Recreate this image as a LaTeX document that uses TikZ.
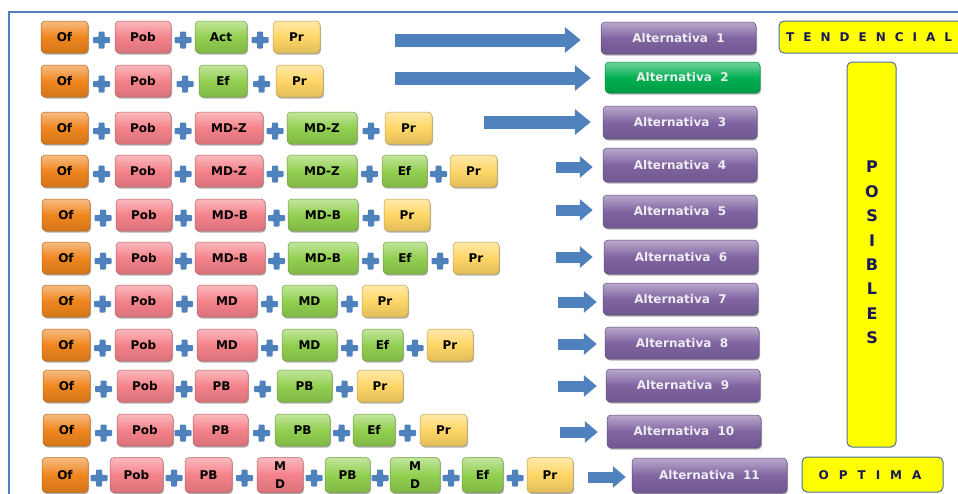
\documentclass[tikz,border=0pt]{standalone}
\usepackage{fontspec}
\setmainfont{DejaVu Sans}
\usetikzlibrary{arrows.meta,calc,shadows}

\definecolor{frameblue}{RGB}{79,129,189}
\definecolor{ofc}{RGB}{240,134,30}
\definecolor{pobc}{RGB}{245,130,138}
\definecolor{grnc}{RGB}{146,208,80}
\definecolor{prc}{RGB}{255,214,102}
\definecolor{altc}{RGB}{128,100,162}
\definecolor{alttwoc}{RGB}{0,176,80}
\definecolor{ylwc}{RGB}{255,255,0}
\definecolor{ylwedge}{RGB}{79,110,160}
\definecolor{navyc}{RGB}{25,25,85}
\definecolor{alttext}{RGB}{238,238,242}

\newcommand\lblfont{\fontsize{12}{14}\selectfont\bfseries}
\newcommand\altfont{\fontsize{12}{14}\selectfont\bfseries}
\newcommand\tagfont{\fontsize{12}{14}\selectfont\bfseries}
\newcommand\tagbig{\fontsize{16}{24.4}\selectfont\bfseries}

% box: style, name, left, right, y-centre, text
\newcommand\bx[6]{%
  \pgfmathsetmacro\bxc{(#3+#4)/2}%
  \pgfmathsetmacro\bxw{#4-#3}%
  \node[#1, minimum width=\bxw pt] (#2) at (\bxc,#5) {#6};}
% alternative box: style, name, left, right, top, bottom, text
\newcommand\altnode[7]{%
  \pgfmathsetmacro\axc{(#3+#4)/2}%
  \pgfmathsetmacro\axy{(#5+#6)/2}%
  \pgfmathsetmacro\axw{#4-#3}%
  \pgfmathsetmacro\axh{#6-#5}%
  \node[#1, minimum width=\axw pt, minimum height=\axh pt] (#2) at (\axc,\axy) {#7};}
% plus sign between two boxes
\newcommand\pl[2]{\pic at ($(#1.east)!0.5!(#2.west)+(0,3)$) {plussign};}
% block arrow: style, start name, start x, y, target, gap
\newcommand\harrow[6]{%
  \coordinate (#2) at (#3,#4);
  \draw[#1] (#2) -- ([xshift=-#6pt]#2 -| #5.west);}

\tikzset{
  boxtone/.style={draw=#1!75!black, line width=0.5pt,
    top color=#1!55!white, bottom color=#1!88!black, middle color=#1},
  boxbase/.style={rounded corners=4pt, inner sep=0pt, minimum height=32pt,
    font=\lblfont, text=black,
    drop shadow={shadow xshift=1pt, shadow yshift=-1.5pt, opacity=0.3, fill=black}},
  ofbox/.style={boxbase, boxtone=ofc},
  pobbox/.style={boxbase, boxtone=pobc},
  grnbox/.style={boxbase, boxtone=grnc},
  prbox/.style={boxbase, boxtone=prc},
  altbox/.style={boxbase, boxtone=altc, font=\altfont, text=alttext},
  alttwobox/.style={boxbase, boxtone=alttwoc, font=\altfont, text=alttext},
  yelbox/.style={rounded corners=5pt, fill=ylwc, draw=ylwedge, line width=1pt,
    inner sep=0pt},
  barrow/.style={frameblue, line width=13pt,
    -{Triangle[length=16pt,width=25pt]}},
  sarrow/.style={frameblue, line width=11pt,
    -{Triangle[length=13pt,width=21pt]}},
  plussign/.pic={\fill[frameblue, rounded corners=0.8pt]
    (-8.5,-3) -- (-3,-3) -- (-3,-8.5) -- (3,-8.5) -- (3,-3) -- (8.5,-3)
    -- (8.5,3) -- (3,3) -- (3,8.5) -- (-3,8.5) -- (-3,3) -- (-8.5,3) -- cycle;}
}

\begin{document}
\begin{tikzpicture}[x=1pt, y=-1pt]
\useasboundingbox (0,0) rectangle (958,493);
\clip (0,0) rectangle (958,493);

% frame
\draw[frameblue, line width=2pt] (958,12) -- (9,12) -- (9,495);

% row 1
\bx{ofbox}{a1}{41}{88}{37}{Of}
\bx{pobbox}{b1}{115}{171}{37}{Pob}
\bx{grnbox}{c1}{195}{247}{37}{Act}
\bx{prbox}{d1}{273}{320}{37}{Pr}
\pl{a1}{b1}\pl{b1}{c1}\pl{c1}{d1}

% row 2
\bx{ofbox}{a2}{41}{88}{81}{Of}
\bx{pobbox}{b2}{115}{171}{81}{Pob}
\bx{grnbox}{c2}{199}{247}{81}{Ef}
\bx{prbox}{d2}{276}{323}{81}{Pr}
\pl{a2}{b2}\pl{b2}{c2}\pl{c2}{d2}

% row 3
\bx{ofbox}{a3}{41}{88}{128}{Of}
\bx{pobbox}{b3}{115}{171}{128}{Pob}
\bx{pobbox}{c3}{195}{263}{128}{MD-Z}
\bx{grnbox}{d3}{287}{357}{128}{MD-Z}
\bx{prbox}{e3}{385}{432}{128}{Pr}
\pl{a3}{b3}\pl{b3}{c3}\pl{c3}{d3}\pl{d3}{e3}

% row 4
\bx{ofbox}{a4}{41}{88}{171}{Of}
\bx{pobbox}{b4}{115}{171}{171}{Pob}
\bx{pobbox}{c4}{195}{263}{171}{MD-Z}
\bx{grnbox}{d4}{287}{357}{171}{MD-Z}
\bx{grnbox}{e4}{382}{427}{171}{Ef}
\bx{prbox}{f4}{450}{497}{171}{Pr}
\pl{a4}{b4}\pl{b4}{c4}\pl{c4}{d4}\pl{d4}{e4}\pl{e4}{f4}

% row 5
\bx{ofbox}{a5}{42}{90}{215}{Of}
\bx{pobbox}{b5}{116}{172}{215}{Pob}
\bx{pobbox}{c5}{195}{265}{215}{MD-B}
\bx{grnbox}{d5}{288}{358}{215}{MD-B}
\bx{prbox}{e5}{384}{430}{215}{Pr}
\pl{a5}{b5}\pl{b5}{c5}\pl{c5}{d5}\pl{d5}{e5}

% row 6
\bx{ofbox}{a6}{42}{90}{258}{Of}
\bx{pobbox}{b6}{116}{172}{258}{Pob}
\bx{pobbox}{c6}{195}{265}{258}{MD-B}
\bx{grnbox}{d6}{288}{358}{258}{MD-B}
\bx{grnbox}{e6}{383}{427}{258}{Ef}
\bx{prbox}{f6}{453}{499}{258}{Pr}
\pl{a6}{b6}\pl{b6}{c6}\pl{c6}{d6}\pl{d6}{e6}\pl{e6}{f6}

% row 7
\bx{ofbox}{a7}{42}{90}{301}{Of}
\bx{pobbox}{b7}{115}{172}{301}{Pob}
\bx{pobbox}{c7}{197}{257}{301}{MD}
\bx{grnbox}{d7}{282}{337}{301}{MD}
\bx{prbox}{e7}{362}{408}{301}{Pr}
\pl{a7}{b7}\pl{b7}{c7}\pl{c7}{d7}\pl{d7}{e7}

% row 8
\bx{ofbox}{a8}{42}{90}{345}{Of}
\bx{pobbox}{b8}{115}{172}{345}{Pob}
\bx{pobbox}{c8}{197}{257}{345}{MD}
\bx{grnbox}{d8}{282}{337}{345}{MD}
\bx{grnbox}{e8}{362}{403}{345}{Ef}
\bx{prbox}{f8}{427}{473}{345}{Pr}
\pl{a8}{b8}\pl{b8}{c8}\pl{c8}{d8}\pl{d8}{e8}\pl{e8}{f8}

% row 9
\bx{ofbox}{a9}{43}{90}{386}{Of}
\bx{pobbox}{b9}{117}{173}{386}{Pob}
\bx{pobbox}{c9}{195}{248}{386}{PB}
\bx{grnbox}{d9}{277}{332}{386}{PB}
\bx{prbox}{e9}{357}{403}{386}{Pr}
\pl{a9}{b9}\pl{b9}{c9}\pl{c9}{d9}\pl{d9}{e9}

% row 10
\bx{ofbox}{a10}{43}{90}{430}{Of}
\bx{pobbox}{b10}{117}{173}{430}{Pob}
\bx{pobbox}{c10}{193}{248}{430}{PB}
\bx{grnbox}{d10}{275}{330}{430}{PB}
\bx{grnbox}{e10}{353}{395}{430}{Ef}
\bx{prbox}{f10}{420}{467}{430}{Pr}
\pl{a10}{b10}\pl{b10}{c10}\pl{c10}{d10}\pl{d10}{e10}\pl{e10}{f10}

% row 11
\begin{scope}[boxbase/.append style={minimum height=35pt}]
\bx{ofbox}{a11}{42}{88}{475}{Of}
\bx{pobbox}{b11}{110}{163}{475}{Pob}
\bx{pobbox}{c11}{185}{232}{475}{PB}
\bx{pobbox, align=center, font=\fontsize{12}{18}\selectfont\bfseries}{d11}{257}{303}{475}{M\\D}
\bx{grnbox}{e11}{325}{370}{475}{PB}
\bx{grnbox, align=center, font=\fontsize{12}{18}\selectfont\bfseries}{f11}{390}{440}{475}{M\\D}
\bx{grnbox}{g11}{462}{503}{475}{Ef}
\bx{prbox}{h11}{527}{573}{475}{Pr}
\end{scope}
\pl{a11}{b11}\pl{b11}{c11}\pl{c11}{d11}\pl{d11}{e11}\pl{e11}{f11}\pl{f11}{g11}\pl{g11}{h11}

% alternatives
\altnode{altbox}{alt1}{601}{756}{22}{54}{Alternativa\ \ 1}
\altnode{alttwobox}{alt2}{605}{760}{62}{93}{Alternativa\ \ 2}
\altnode{altbox}{alt3}{603}{757}{106}{139}{Alternativa\ \ 3}
\altnode{altbox}{alt4}{603}{757}{148}{182}{Alternativa\ \ 4}
\altnode{altbox}{alt5}{603}{757}{195}{228}{Alternativa\ \ 5}
\altnode{altbox}{alt6}{604}{758}{240}{274}{Alternativa\ \ 6}
\altnode{altbox}{alt7}{603}{758}{283}{315}{Alternativa\ \ 7}
\altnode{altbox}{alt8}{605}{759}{327}{359}{Alternativa\ \ 8}
\altnode{altbox}{alt9}{606}{760}{369}{402}{Alternativa\ \ 9}
\altnode{altbox}{alt10}{607}{761}{415}{448}{Alternativa\ \ 10}
\altnode{altbox}{alt11}{632}{787}{458}{493}{Alternativa\ \ 11}

% arrows towards the alternatives
\harrow{barrow}{s1}{395}{40}{alt1}{20}
\harrow{barrow}{s2}{395}{78}{alt2}{14}
\harrow{barrow}{s3}{484}{122}{alt3}{12}
\harrow{sarrow}{s4}{556}{167}{alt4}{10}
\harrow{sarrow}{s5}{556}{210}{alt5}{10}
\harrow{sarrow}{s6}{556}{257}{alt6}{11}
\harrow{sarrow}{s7}{558}{302}{alt7}{6}
\harrow{sarrow}{s8}{558}{344}{alt8}{8}
\harrow{sarrow}{s9}{558}{386}{alt9}{9}
\harrow{sarrow}{s10}{560}{432}{alt10}{9}
\harrow{sarrow}{s11}{588}{477}{alt11}{6}

% category labels
\altnode{yelbox}{tend}{779}{985}{21}{53}{}
\node[anchor=west, font=\tagfont, text=navyc, inner sep=0pt] (tendw) at (786,37)
  {T\kern9pt E\kern9pt N\kern9pt D\kern9pt E\kern9pt N\kern9pt C\kern9pt I\kern9pt A\kern9pt L};
\altnode{yelbox}{posb}{847}{896}{62}{447}{}
\node[font=\tagbig, text=navyc, align=center, inner sep=0pt] (posw) at (872,252.5)
  {P\\O\\S\\I\\B\\L\\E\\S};
\altnode{yelbox}{optb}{802}{943}{457}{492}{}
\node[font=\tagfont, text=navyc, inner sep=0pt] (optw) at (870,475)
  {O\kern10pt P\kern10pt T\kern10pt I\kern10pt M\kern10pt A};
\end{tikzpicture}
\end{document}
